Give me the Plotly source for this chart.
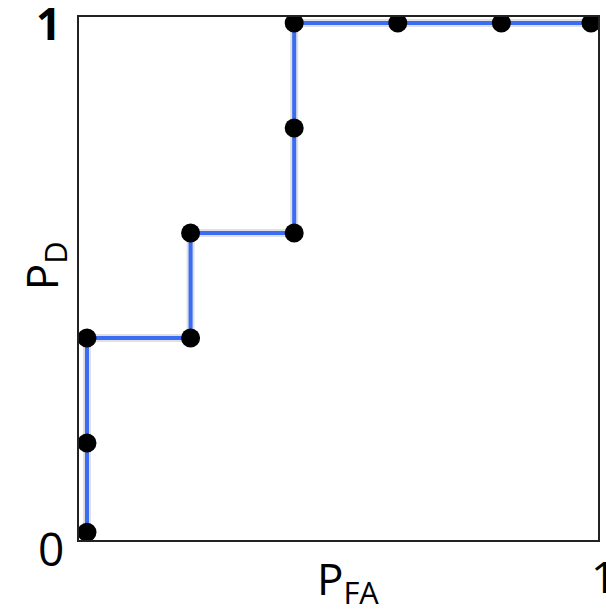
import plotly.graph_objects as go

# ROC curve points (false-alarm probability, detection probability)
p_fa = [0.0, 0.0, 0.0, 0.2, 0.2, 0.4, 0.4, 0.4, 0.6, 0.8, 0.973]
p_d = [0.03, 0.2, 0.4, 0.4, 0.6, 0.6, 0.8, 1.0, 1.0, 1.0, 1.0]

W, H = 606, 612
L, R, T, B = 79, 6, 17, 72

fig = go.Figure()
# soft shadow under the curve
fig.add_trace(go.Scatter(x=p_fa, y=p_d, mode="lines",
                         line=dict(color="rgba(0,0,0,0.12)", width=8),
                         hoverinfo="skip", showlegend=False))
fig.add_trace(go.Scatter(x=p_fa, y=p_d, mode="lines",
                         line=dict(color="#3a6cf4", width=4),
                         hoverinfo="skip", showlegend=False))
fig.add_trace(go.Scatter(x=p_fa, y=p_d, mode="markers",
                         marker=dict(color="black", size=19),
                         hoverinfo="skip", showlegend=False))

font = "Open Sans, DejaVu Sans, sans-serif"
def px_x(px):
    return (px - L) / (W - L - R)
def px_y(py):
    return (H - B - py) / (H - T - B)

ann = [
    dict(text="<b>1</b>", x=px_x(48), y=px_y(23), size=44),
    dict(text="0", x=px_x(51), y=px_y(548), size=46),
    dict(text="1", x=px_x(606), y=px_y(576), size=44),
    dict(text="P<sub>FA</sub>", x=px_x(349), y=px_y(580), size=44),
]
annotations = []
for a in ann:
    annotations.append(dict(text=a["text"], x=a["x"], y=a["y"], xref="paper", yref="paper",
                            xanchor="center", yanchor="middle", showarrow=False,
                            font=dict(family=font, size=a["size"], color="black")))
annotations.append(dict(text="P<sub>D</sub>", x=px_x(43), y=px_y(266), xref="paper", yref="paper",
                        xanchor="center", yanchor="middle", showarrow=False, textangle=-90,
                        font=dict(family=font, size=44, color="black")))

fig.update_layout(
    width=W, height=H,
    margin=dict(l=L, r=R, t=T, b=B),
    paper_bgcolor="white", plot_bgcolor="white",
    xaxis=dict(range=[-0.0154, 0.9865], showgrid=False, zeroline=False, showticklabels=False,
               ticks="", showline=True, linecolor="#222", linewidth=2, mirror=True),
    yaxis=dict(range=[0.0152, 1.0114], showgrid=False, zeroline=False, showticklabels=False,
               ticks="", showline=True, linecolor="#222", linewidth=2, mirror=True),
    annotations=annotations,
)
fig.write_html("out.html")
